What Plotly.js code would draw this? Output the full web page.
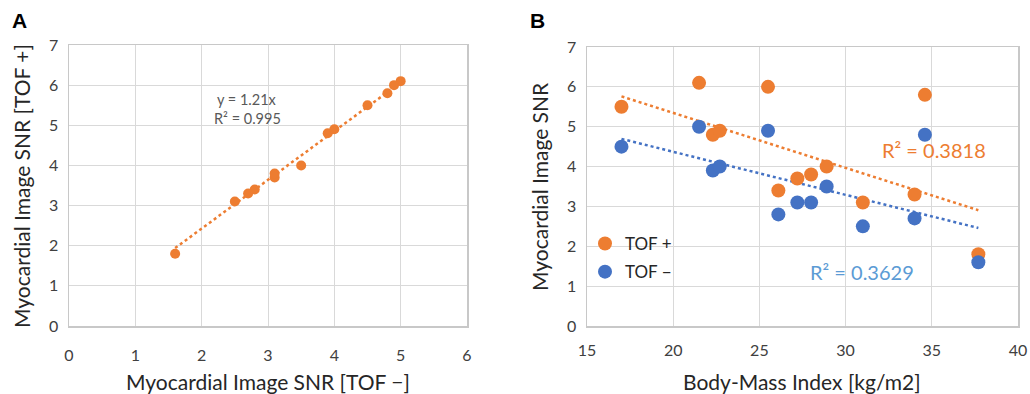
<!DOCTYPE html>
<html>
<head>
<meta charset="utf-8">
<script src="https://cdn.plot.ly/plotly-3.0.1.min.js"></script>
<style>html,body{margin:0;padding:0;background:#fff}</style>
</head>
<body>
<div id="chart" style="width:1030px;height:394px"></div>
<script>
// Data
const bmi        = [17.0, 21.5, 22.3, 22.7, 25.5, 26.1, 27.2, 28.0, 28.9, 31.0, 34.0, 34.6, 37.7];
const snrTofPos  = [5.5, 6.1, 4.8, 4.9, 6.0, 3.4, 3.7, 3.8, 4.0, 3.1, 3.3, 5.8, 1.8];
const snrTofNeg  = [4.5, 5.0, 3.9, 4.0, 4.9, 2.8, 3.1, 3.1, 3.5, 2.5, 2.7, 4.8, 1.6];
const ticksA_x   = [0, 1, 2, 3, 4, 5, 6];
const ticksY     = [0, 1, 2, 3, 4, 5, 6, 7];
const ticksB_x   = [15, 20, 25, 30, 35, 40];
const seriesNames = ['TOF +', 'TOF \u2212'];
const labelFitA  = ['y = 1.21x', 'R\u00b2 = 0.995'];
const labelFitPos = 'R\u00b2 = 0.3818';
const labelFitNeg = 'R\u00b2 = 0.3629';

const ORANGE = '#ED7D31', BLUE = '#4472C4', LIGHTBLUE = '#5B9BD5';
const FONT = 'Lato, sans-serif';

// least-squares fits derived from the data
function linFit(x, y) {
  const n = x.length, mx = x.reduce((a,b)=>a+b)/n, my = y.reduce((a,b)=>a+b)/n;
  let sxy = 0, sxx = 0;
  for (let i = 0; i < n; i++) { sxy += (x[i]-mx)*(y[i]-my); sxx += (x[i]-mx)**2; }
  const m = sxy/sxx, b = my - m*mx;
  const x0 = Math.min(...x), x1 = Math.max(...x);
  return {x: [x0, x1], y: [m*x0+b, m*x1+b]};
}
function originFit(x, y) {
  let sxy = 0, sxx = 0;
  for (let i = 0; i < x.length; i++) { sxy += x[i]*y[i]; sxx += x[i]*x[i]; }
  const m = sxy/sxx, x0 = Math.min(...x), x1 = Math.max(...x);
  return {x: [x0, x1], y: [m*x0, m*x1]};
}
const fA = originFit(snrTofNeg, snrTofPos);
const fP = linFit(bmi, snrTofPos);
const fN = linFit(bmi, snrTofNeg);

const traces = [
  {x: fA.x, y: fA.y, mode: 'lines', line: {color: ORANGE, dash: 'dot', width: 2.5}, xaxis: 'x', yaxis: 'y', showlegend: false, hoverinfo: 'skip'},
  {x: snrTofNeg, y: snrTofPos, mode: 'markers', marker: {color: ORANGE, size: 10}, xaxis: 'x', yaxis: 'y', showlegend: false},
  {x: fP.x, y: fP.y, mode: 'lines', line: {color: ORANGE, dash: 'dot', width: 2.5}, xaxis: 'x2', yaxis: 'y2', showlegend: false, hoverinfo: 'skip'},
  {x: fN.x, y: fN.y, mode: 'lines', line: {color: BLUE, dash: 'dot', width: 2.5}, xaxis: 'x2', yaxis: 'y2', showlegend: false, hoverinfo: 'skip'},
  {x: bmi, y: snrTofPos, mode: 'markers', name: seriesNames[0], marker: {color: ORANGE, size: 14}, xaxis: 'x2', yaxis: 'y2', legendgroup: 'a'},
  {x: bmi, y: snrTofNeg, mode: 'markers', name: seriesNames[1], marker: {color: BLUE, size: 14}, xaxis: 'x2', yaxis: 'y2', legendgroup: 'b'}
];

const axisCommon = {
  showgrid: true, gridcolor: '#d9d9d9', gridwidth: 1,
  showline: true, linecolor: '#c8c8c8', linewidth: 1.5, mirror: true,
  zeroline: false, ticks: 'outside', tickcolor: 'rgba(0,0,0,0)',
  tickfont: {family: FONT, size: 16, color: '#404040'}, automargin: false, fixedrange: true
};

function ann(text, px, py, size, color, extra) {
  return Object.assign({text: text, x: px/1030, y: 1-py/394, xref: 'paper', yref: 'paper',
    xanchor: 'center', yanchor: 'middle', showarrow: false,
    font: {family: FONT, size: size, color: color}}, extra || {});
}

const layout = {
  width: 1030, height: 394,
  margin: {l: 0, r: 0, t: 0, b: 0},
  paper_bgcolor: '#fff', plot_bgcolor: '#fff',
  font: {family: FONT, color: '#262626'},
  showlegend: true,
  legend: {x: 585/1030, y: 1-226/394, xanchor: 'left', yanchor: 'top', bgcolor: 'rgba(0,0,0,0)',
           font: {family: FONT, size: 17, color: '#262626'}, tracegroupgap: 3, traceorder: 'grouped'},
  xaxis: Object.assign({}, axisCommon, {domain: [69/1030, 467/1030], range: [0, 6], tickvals: ticksA_x, ticklen: 14, anchor: 'y'}),
  yaxis: Object.assign({}, axisCommon, {domain: [68/394, 349/394], range: [0, 7], tickvals: ticksY, ticklen: 6, anchor: 'x'}),
  xaxis2: Object.assign({}, axisCommon, {domain: [587/1030, 1018/1030], range: [15, 40], tickvals: ticksB_x, ticklen: 9, anchor: 'y2'}),
  yaxis2: Object.assign({}, axisCommon, {domain: [68/394, 347/394], range: [0, 7], tickvals: ticksY, ticklen: 6, anchor: 'x2'}),
  annotations: [
    ann('<b>A</b>', 19, 20, 21, '#000', {font: {family: 'Liberation Sans, Arial, sans-serif', size: 21, color: '#000'}}),
    ann('<b>B</b>', 537, 20, 21, '#000', {font: {family: 'Liberation Sans, Arial, sans-serif', size: 21, color: '#000'}}),
    ann('Myocardial Image SNR [TOF \u2212]', 268, 381, 21, '#262626'),
    ann('Myocardial Image SNR [TOF +]', 21, 186, 21, '#262626', {textangle: -90}),
    ann('Body-Mass Index [kg/m2]', 802, 381, 21, '#262626'),
    ann('Myocardial Image SNR', 539, 187, 21, '#262626', {textangle: -90}),
    ann(labelFitA[0], 247, 99, 14.5, '#595959'),
    ann(labelFitA[1], 247, 118, 14.5, '#595959'),
    ann(labelFitPos, 934, 150, 20, ORANGE),
    ann(labelFitNeg, 862, 272, 20, LIGHTBLUE)
  ]
};

Plotly.newPlot('chart', traces, layout, {displayModeBar: false, staticPlot: true});
</script>
</body>
</html>
